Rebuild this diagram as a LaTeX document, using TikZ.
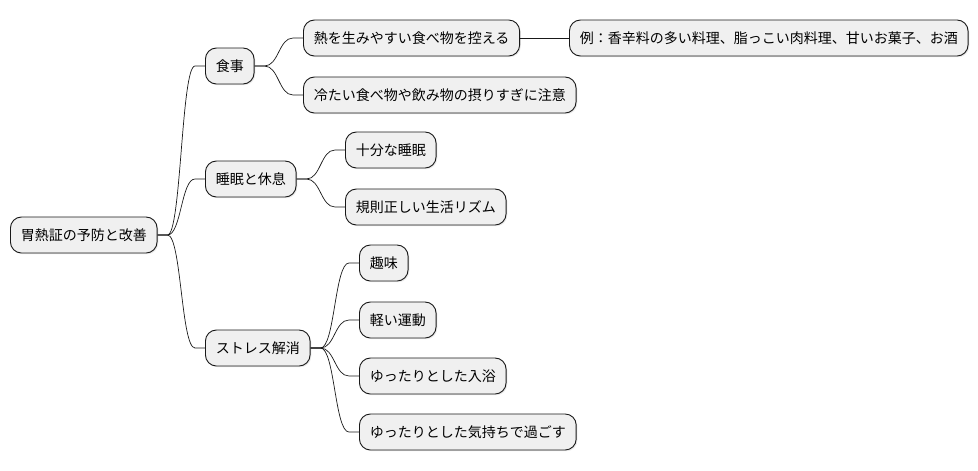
\documentclass[tikz,border=0pt]{standalone}
\usepackage{fontspec}
\setmainfont{Noto Sans CJK JP}
\usetikzlibrary{calc,shadows}
\tikzset{
  mmbox/.style={draw=black!90, fill=black!6, line width=0.9pt, rounded corners=11pt,
    inner xsep=10.3pt, inner ysep=0pt, minimum height=36pt, anchor=west,
    font=\fontsize{14pt}{16pt}\selectfont,
    drop shadow={shadow xshift=1.2pt, shadow yshift=-1.2pt, opacity=0.18}},
  mmline/.style={draw=black!90, line width=0.7pt}
}
\newcommand{\mmlink}[2]{%
  \draw[mmline] let \p1=(#1.east), \p2=(#2.west) in
    (\p1) -- (\x1+10pt,\y1) .. controls (\x1/2+\x2/2,\y1) and (\x1/2+\x2/2,\y2) .. (\x2-10pt,\y2) -- (\p2);}
\begin{document}
\begin{tikzpicture}[x=1pt,y=-1pt]
\useasboundingbox (0,0) rectangle (978,471);
\node[mmbox] (root) at (10,235) {胃熱証の予防と改善};
\node[mmbox] (diet) at (205,66) {食事};
\node[mmbox] (heat) at (303,38) {熱を生みやすい食べ物を控える};
\node[mmbox] (cold) at (303,95) {冷たい食べ物や飲み物の摂りすぎに注意};
\node[mmbox] (ex) at (569,38) {例：香辛料の多い料理、脂っこい肉料理、甘いお菓子、お酒};
\node[mmbox] (sleep) at (205,179) {睡眠と休息};
\node[mmbox] (enough) at (345,150) {十分な睡眠};
\node[mmbox] (rhythm) at (345,207) {規則正しい生活リズム};
\node[mmbox] (stress) at (205,348) {ストレス解消};
\node[mmbox] (hobby) at (359,263) {趣味};
\node[mmbox] (exer) at (359,320) {軽い運動};
\node[mmbox] (bath) at (359,376) {ゆったりとした入浴};
\node[mmbox] (relax) at (359,432) {ゆったりとした気持ちで過ごす};
\mmlink{root}{diet}
\mmlink{root}{sleep}
\mmlink{root}{stress}
\mmlink{diet}{heat}
\mmlink{diet}{cold}
\draw[mmline] (heat.east) -- (ex.west);
\mmlink{sleep}{enough}
\mmlink{sleep}{rhythm}
\mmlink{stress}{hobby}
\mmlink{stress}{exer}
\mmlink{stress}{bath}
\mmlink{stress}{relax}
\end{tikzpicture}
\end{document}
